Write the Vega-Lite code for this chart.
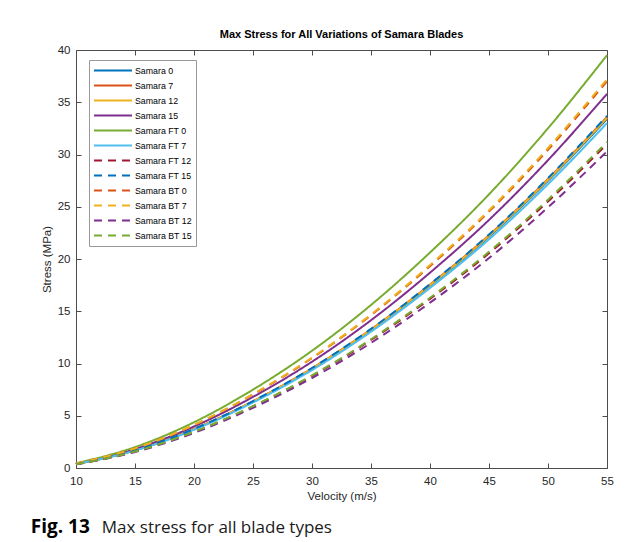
{
  "$schema": "https://vega.github.io/schema/vega-lite/v6.json",
  "background": "white",
  "padding": {"left": 30, "top": 28, "right": 5, "bottom": 5},
  "config": {
    "font": "Liberation Sans",
    "axis": {"grid": false, "domain": false, "tickColor": "#4d4d4d", "tickSize": -5, "tickWidth": 1, "labelColor": "#262626", "labelFontSize": 11.5, "labelFont": "Liberation Sans", "titleFont": "Liberation Sans", "titleFontSize": 11.5, "titleFontWeight": "normal", "titleColor": "#262626", "labelFlush": false, "labelOverlap": false},
    "title": {"font": "Liberation Sans"}
  },
  "datasets": {
    "stress": [
      {"s": "Samara 0", "v": 10, "y": 0.38}, {"s": "Samara 0", "v": 15, "y": 1.69}, {"s": "Samara 0", "v": 20, "y": 3.71}, {"s": "Samara 0", "v": 25, "y": 6.35}, {"s": "Samara 0", "v": 30, "y": 9.49}, {"s": "Samara 0", "v": 35, "y": 13.19}, {"s": "Samara 0", "v": 40, "y": 17.43}, {"s": "Samara 0", "v": 45, "y": 22.14}, {"s": "Samara 0", "v": 50, "y": 27.49}, {"s": "Samara 0", "v": 55, "y": 33.4},
      {"s": "Samara 7", "v": 10, "y": 0.38}, {"s": "Samara 7", "v": 15, "y": 1.70}, {"s": "Samara 7", "v": 20, "y": 3.73}, {"s": "Samara 7", "v": 25, "y": 6.38}, {"s": "Samara 7", "v": 30, "y": 9.54}, {"s": "Samara 7", "v": 35, "y": 13.27}, {"s": "Samara 7", "v": 40, "y": 17.54}, {"s": "Samara 7", "v": 45, "y": 22.28}, {"s": "Samara 7", "v": 50, "y": 27.65}, {"s": "Samara 7", "v": 55, "y": 33.6},
      {"s": "Samara 12", "v": 10, "y": 0.38}, {"s": "Samara 12", "v": 15, "y": 1.70}, {"s": "Samara 12", "v": 20, "y": 3.72}, {"s": "Samara 12", "v": 25, "y": 6.37}, {"s": "Samara 12", "v": 30, "y": 9.51}, {"s": "Samara 12", "v": 35, "y": 13.23}, {"s": "Samara 12", "v": 40, "y": 17.49}, {"s": "Samara 12", "v": 45, "y": 22.21}, {"s": "Samara 12", "v": 50, "y": 27.57}, {"s": "Samara 12", "v": 55, "y": 33.5},
      {"s": "Samara 15", "v": 10, "y": 0.41}, {"s": "Samara 15", "v": 15, "y": 1.81}, {"s": "Samara 15", "v": 20, "y": 3.97}, {"s": "Samara 15", "v": 25, "y": 6.80}, {"s": "Samara 15", "v": 30, "y": 10.17}, {"s": "Samara 15", "v": 35, "y": 14.14}, {"s": "Samara 15", "v": 40, "y": 18.69}, {"s": "Samara 15", "v": 45, "y": 23.74}, {"s": "Samara 15", "v": 50, "y": 29.46}, {"s": "Samara 15", "v": 55, "y": 35.8},
      {"s": "Samara FT 0", "v": 10, "y": 0.45}, {"s": "Samara FT 0", "v": 15, "y": 2.00}, {"s": "Samara FT 0", "v": 20, "y": 4.38}, {"s": "Samara FT 0", "v": 25, "y": 7.50}, {"s": "Samara FT 0", "v": 30, "y": 11.22}, {"s": "Samara FT 0", "v": 35, "y": 15.60}, {"s": "Samara FT 0", "v": 40, "y": 20.62}, {"s": "Samara FT 0", "v": 45, "y": 26.19}, {"s": "Samara FT 0", "v": 50, "y": 32.51}, {"s": "Samara FT 0", "v": 55, "y": 39.5},
      {"s": "Samara FT 7", "v": 10, "y": 0.38}, {"s": "Samara FT 7", "v": 15, "y": 1.67}, {"s": "Samara FT 7", "v": 20, "y": 3.66}, {"s": "Samara FT 7", "v": 25, "y": 6.27}, {"s": "Samara FT 7", "v": 30, "y": 9.37}, {"s": "Samara FT 7", "v": 35, "y": 13.04}, {"s": "Samara FT 7", "v": 40, "y": 17.23}, {"s": "Samara FT 7", "v": 45, "y": 21.88}, {"s": "Samara FT 7", "v": 50, "y": 27.16}, {"s": "Samara FT 7", "v": 55, "y": 33.0},
      {"s": "Samara FT 12", "v": 10, "y": 0.35}, {"s": "Samara FT 12", "v": 15, "y": 1.57}, {"s": "Samara FT 12", "v": 20, "y": 3.44}, {"s": "Samara FT 12", "v": 25, "y": 5.89}, {"s": "Samara FT 12", "v": 30, "y": 8.80}, {"s": "Samara FT 12", "v": 35, "y": 12.25}, {"s": "Samara FT 12", "v": 40, "y": 16.18}, {"s": "Samara FT 12", "v": 45, "y": 20.55}, {"s": "Samara FT 12", "v": 50, "y": 25.51}, {"s": "Samara FT 12", "v": 55, "y": 31.0},
      {"s": "Samara FT 15", "v": 10, "y": 0.38}, {"s": "Samara FT 15", "v": 15, "y": 1.71}, {"s": "Samara FT 15", "v": 20, "y": 3.74}, {"s": "Samara FT 15", "v": 25, "y": 6.40}, {"s": "Samara FT 15", "v": 30, "y": 9.57}, {"s": "Samara FT 15", "v": 35, "y": 13.31}, {"s": "Samara FT 15", "v": 40, "y": 17.59}, {"s": "Samara FT 15", "v": 45, "y": 22.34}, {"s": "Samara FT 15", "v": 50, "y": 27.74}, {"s": "Samara FT 15", "v": 55, "y": 33.7},
      {"s": "Samara BT 0", "v": 10, "y": 0.42}, {"s": "Samara BT 0", "v": 15, "y": 1.87}, {"s": "Samara BT 0", "v": 20, "y": 4.11}, {"s": "Samara BT 0", "v": 25, "y": 7.03}, {"s": "Samara BT 0", "v": 30, "y": 10.51}, {"s": "Samara BT 0", "v": 35, "y": 14.62}, {"s": "Samara BT 0", "v": 40, "y": 19.31}, {"s": "Samara BT 0", "v": 45, "y": 24.53}, {"s": "Samara BT 0", "v": 50, "y": 30.45}, {"s": "Samara BT 0", "v": 55, "y": 37.0},
      {"s": "Samara BT 7", "v": 10, "y": 0.42}, {"s": "Samara BT 7", "v": 15, "y": 1.88}, {"s": "Samara BT 7", "v": 20, "y": 4.13}, {"s": "Samara BT 7", "v": 25, "y": 7.07}, {"s": "Samara BT 7", "v": 30, "y": 10.56}, {"s": "Samara BT 7", "v": 35, "y": 14.69}, {"s": "Samara BT 7", "v": 40, "y": 19.42}, {"s": "Samara BT 7", "v": 45, "y": 24.66}, {"s": "Samara BT 7", "v": 50, "y": 30.62}, {"s": "Samara BT 7", "v": 55, "y": 37.2},
      {"s": "Samara BT 12", "v": 10, "y": 0.35}, {"s": "Samara BT 12", "v": 15, "y": 1.53}, {"s": "Samara BT 12", "v": 20, "y": 3.36}, {"s": "Samara BT 12", "v": 25, "y": 5.76}, {"s": "Samara BT 12", "v": 30, "y": 8.61}, {"s": "Samara BT 12", "v": 35, "y": 11.97}, {"s": "Samara BT 12", "v": 40, "y": 15.82}, {"s": "Samara BT 12", "v": 45, "y": 20.09}, {"s": "Samara BT 12", "v": 50, "y": 24.94}, {"s": "Samara BT 12", "v": 55, "y": 30.3},
      {"s": "Samara BT 15", "v": 10, "y": 0.36}, {"s": "Samara BT 15", "v": 15, "y": 1.58}, {"s": "Samara BT 15", "v": 20, "y": 3.46}, {"s": "Samara BT 15", "v": 25, "y": 5.93}, {"s": "Samara BT 15", "v": 30, "y": 8.86}, {"s": "Samara BT 15", "v": 35, "y": 12.32}, {"s": "Samara BT 15", "v": 40, "y": 16.29}, {"s": "Samara BT 15", "v": 45, "y": 20.69}, {"s": "Samara BT 15", "v": 50, "y": 25.68}, {"s": "Samara BT 15", "v": 55, "y": 31.2}
    ]
  },
  "spacing": 14,
  "vconcat": [
    {
      "width": 531,
      "height": 418,
      "data": {"name": "stress"},
      "view": {"stroke": "#4d4d4d", "strokeWidth": 1},
      "title": {"text": "Max Stress for All Variations of Samara Blades", "fontSize": 11, "fontWeight": "bold", "color": "black", "offset": 4, "anchor": "middle"},
      "layer": [
        {
          "mark": {"type": "line", "strokeWidth": 2, "interpolate": "monotone"},
          "encoding": {
            "x": {"field": "v", "type": "quantitative", "scale": {"domain": [10, 55], "nice": false, "zero": false}, "axis": {"orient": "bottom", "values": [10, 15, 20, 25, 30, 35, 40, 45, 50, 55], "labelPadding": 12, "title": "Velocity (m/s)", "titlePadding": 4}},
            "y": {"field": "y", "type": "quantitative", "scale": {"domain": [0, 40], "nice": false, "zero": false}, "axis": {"orient": "left", "values": [0, 5, 10, 15, 20, 25, 30, 35, 40], "labelPadding": 11, "title": "Stress (MPa)", "titlePadding": 5}},
            "color": {
              "field": "s", "type": "nominal",
              "scale": {
                "domain": ["Samara 0", "Samara 7", "Samara 12", "Samara 15", "Samara FT 0", "Samara FT 7", "Samara FT 12", "Samara FT 15", "Samara BT 0", "Samara BT 7", "Samara BT 12", "Samara BT 15"],
                "range": ["#0072BD", "#D95319", "#EDB120", "#7E2F8E", "#77AC30", "#4DBEEE", "#A2142F", "#0072BD", "#D95319", "#EDB120", "#7E2F8E", "#77AC30"]
              },
              "legend": {"title": null, "orient": "none", "legendX": 13, "legendY": 10, "symbolType": "stroke", "symbolSize": 1444, "symbolStrokeWidth": 2, "clipHeight": 13, "rowPadding": 2, "labelOffset": 2, "labelFontSize": 8.8, "labelColor": "black", "labelFont": "Liberation Sans", "padding": 4, "strokeColor": "#999999", "fillColor": "white", "labelLimit": 200}
            },
            "strokeDash": {
              "field": "s", "type": "nominal",
              "scale": {
                "domain": ["Samara 0", "Samara 7", "Samara 12", "Samara 15", "Samara FT 0", "Samara FT 7", "Samara FT 12", "Samara FT 15", "Samara BT 0", "Samara BT 7", "Samara BT 12", "Samara BT 15"],
                "range": [[1, 0], [1, 0], [1, 0], [1, 0], [1, 0], [1, 0], [8, 6], [8, 6], [8, 6], [8, 6], [8, 6], [8, 6]]
              },
              "legend": {"title": null, "orient": "none", "legendX": 13, "legendY": 10, "symbolType": "stroke", "symbolSize": 1444, "symbolStrokeWidth": 2, "clipHeight": 13, "rowPadding": 2, "labelOffset": 2, "labelFontSize": 8.8, "labelColor": "black", "labelFont": "Liberation Sans", "padding": 4, "strokeColor": "#999999", "fillColor": "white", "labelLimit": 200}
            }
          }
        },
        {
          "mark": {"type": "point", "opacity": 0},
          "encoding": {
            "x": {"field": "v", "type": "quantitative", "axis": {"orient": "top", "values": [10, 15, 20, 25, 30, 35, 40, 45, 50, 55], "labels": false, "title": null}},
            "y": {"field": "y", "type": "quantitative", "axis": {"orient": "right", "values": [0, 5, 10, 15, 20, 25, 30, 35, 40], "labels": false, "title": null}}
          }
        }
      ]
    },
    {
      "bounds": "flush",
      "spacing": 27,
      "hconcat": [
        {"width": 1, "height": 1, "view": {"stroke": null}, "data": {"values": [{}]}, "mark": {"type": "point", "opacity": 0}, "encoding": {}, "title": {"text": "Fig. 13", "anchor": "start", "dx": -43, "font": "Open Sans", "fontSize": 19, "fontWeight": "bold", "color": "black", "offset": 0}},
        {"width": 1, "height": 1, "view": {"stroke": null}, "data": {"values": [{}]}, "mark": {"type": "point", "opacity": 0}, "encoding": {}, "title": {"text": "Max stress for all blade types", "anchor": "start", "font": "Open Sans", "fontSize": 17, "fontWeight": "normal", "color": "#1a1a1a", "offset": 0}}
      ]
    }
  ]
}
